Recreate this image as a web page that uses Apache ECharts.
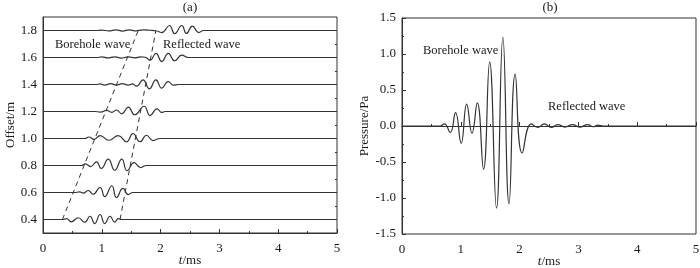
<!DOCTYPE html>
<html>
<head>
<meta charset="utf-8">
<script src="https://cdn.jsdelivr.net/npm/echarts@6/dist/echarts.min.js"></script>
<style>
  html, body { margin: 0; padding: 0; background: #fff; }
  #chart { width: 700px; height: 268px; }
</style>
</head>
<body>
<div id="chart"></div>
<script>
// (a) trace baselines, offset in m
const offsets = [0.4, 0.6, 0.8, 1.0, 1.2, 1.4, 1.6, 1.8];

// (a) wave packets: [t (ms), displacement from baseline (m)]
const trace04 = [[0.34, 0], [0.40, 0.007], [0.48, -0.017], [0.60, 0.013], [0.71, -0.020], [0.80, 0.024], [0.88, -0.030], [0.97, 0.037], [1.05, -0.030], [1.14, 0.024], [1.22, -0.020], [1.28, 0.007], [1.34, 0]];
const trace06 = [[0.54, 0], [0.62, 0.004], [0.69, -0.004], [0.77, 0.015], [0.85, -0.013], [0.97, 0.037], [1.05, -0.030], [1.17, 0.050], [1.25, -0.037], [1.36, 0.030], [1.45, -0.015], [1.53, 0]];
const trace08 = [[0.65, 0], [0.72, 0.012], [0.81, -0.008], [0.91, 0.027], [0.99, -0.022], [1.11, 0.047], [1.22, -0.035], [1.34, 0.047], [1.43, -0.039], [1.55, 0.022], [1.66, -0.015], [1.76, 0]];
const trace10 = [[0.71, 0], [0.78, 0.011], [0.87, -0.006], [0.97, 0.022], [1.12, -0.013], [1.28, 0.022], [1.42, -0.024], [1.53, 0.037], [1.65, -0.024], [1.76, 0.024], [1.87, -0.015], [1.99, 0]];
const trace12 = [[0.88, 0], [0.98, -0.004], [1.08, 0.008], [1.17, -0.006], [1.25, 0.011], [1.34, -0.017], [1.45, 0.032], [1.56, -0.024], [1.72, 0.039], [1.82, -0.030], [1.94, 0.020], [2.02, -0.007], [2.08, 0]];
const trace14 = [[0.90, 0], [0.97, 0.004], [1.05, -0.004], [1.15, 0.006], [1.25, -0.004], [1.35, 0.006], [1.45, -0.004], [1.52, 0.004], [1.59, -0.012], [1.70, 0.035], [1.81, -0.032], [1.92, 0.035], [2.02, -0.027], [2.13, 0.022], [2.22, -0.005], [2.30, 0]];
const trace16 = [[0.91, 0], [1.00, 0.004], [1.10, -0.003], [1.22, 0.005], [1.33, -0.004], [1.45, 0.004], [1.56, -0.003], [1.66, 0.004], [1.74, 0.002], [1.82, -0.020], [1.92, 0.030], [2.02, -0.030], [2.13, 0.030], [2.24, -0.024], [2.36, 0.017], [2.47, 0]];
const trace18 = [[0.90, 0], [1.00, 0.003], [1.12, -0.003], [1.24, 0.005], [1.35, -0.004], [1.47, 0.005], [1.58, -0.003], [1.70, 0.004], [1.82, 0.002], [1.92, -0.002], [2.02, -0.015], [2.15, 0.037], [2.24, -0.024], [2.36, 0.037], [2.44, -0.022], [2.54, 0.033], [2.65, -0.015], [2.73, 0]];
const traces = [trace04, trace06, trace08, trace10, trace12, trace14, trace16, trace18];

// (a) dashed arrival lines: [t, offset]
const boreholeLine = [[0.33, 0.4], [1.62, 1.8]];
const reflectedLine = [[1.31, 0.4], [1.92, 1.8]];

// (b) pressure record: [t (ms), p (Pa)]
const pressure = [[0, 0], [0.65, 0], [0.72, 0.03], [0.82, -0.09], [0.91, 0.185], [1.006, -0.24], [1.10, 0.305], [1.19, -0.10], [1.28, 0.32], [1.386, -0.60], [1.49, 0.89], [1.607, -1.14], [1.715, 1.23], [1.82, -1.08], [1.925, 0.72], [2.044, -0.375], [2.20, 0.03], [2.31, -0.02], [2.42, 0.03], [2.54, -0.02], [2.65, 0.02], [2.77, -0.015], [2.90, 0.02], [3.02, -0.015], [3.16, 0.018], [3.25, -0.01], [3.33, 0.012], [3.42, 0], [5, 0]];

const offsetTicks = [0.4, 0.6, 0.8, 1.0, 1.2, 1.4, 1.6, 1.8];
const offsetMinor = [0.5, 0.7, 0.9, 1.1, 1.3, 1.5, 1.7];

const FONT = "'Liberation Serif', 'Times New Roman', serif";
const FS = 13;
const INK = "#1a1a1a";
const LINE = "#333";

const chart = echarts.init(document.getElementById("chart"), null, { renderer: "canvas" });

function xAxisOf(gridIndex) {
  return {
    gridIndex,
    type: "value",
    min: 0,
    max: 5,
    interval: 1,
    axisLine: { lineStyle: { color: LINE, width: 1 } },
    axisTick: { inside: true, length: 4, lineStyle: { color: LINE } },
    minorTick: { show: true, splitNumber: 2, length: 2, lineStyle: { color: LINE } },
    axisLabel: { fontFamily: FONT, fontSize: FS, color: INK, margin: 9 },
    splitLine: { show: false },
    name: "{i|t}/ms",
    nameLocation: "middle",
    nameGap: 21,
    nameMoveOverlap: false,
    nameTextStyle: {
      fontFamily: FONT, fontSize: FS, color: INK,
      rich: { i: { fontFamily: FONT, fontSize: FS, fontStyle: "italic", color: INK } },
    },
  };
}

const waveSeries = traces.map((tr, k) => ({
  type: "line",
  xAxisIndex: 0,
  yAxisIndex: 0,
  showSymbol: false,
  smooth: 0.5,
  silent: true,
  lineStyle: { color: LINE, width: 1.2 },
  data: [[0, 0]].concat(tr, [[5, 0]]).map(([t, a]) => [t, offsets[k] + a]),
}));

const dashStyle = { color: LINE, width: 1, type: [5, 4] };

chart.setOption({
  animation: false,
  grid: [
    { left: 43, right: 363, top: 17, bottom: 35, show: true, borderColor: LINE, borderWidth: 1, outerBoundsMode: "none", containLabel: false },
    { left: 402, right: 4, top: 18, bottom: 34, show: true, borderColor: LINE, borderWidth: 1, outerBoundsMode: "none", containLabel: false },
  ],
  xAxis: [xAxisOf(0), xAxisOf(1)],
  yAxis: [
    {
      gridIndex: 0,
      type: "value",
      min: 0.3,
      max: 1.9,
      interval: 0.1,
      axisLine: { lineStyle: { color: LINE } },
      axisTick: { inside: true, length: 4, customValues: offsetTicks, lineStyle: { color: LINE } },
      axisLabel: { customValues: offsetTicks, formatter: (v) => v.toFixed(1), fontFamily: FONT, fontSize: FS, color: INK, margin: 6 },
      splitLine: { show: false },
      name: "Offset/m",
      nameLocation: "middle",
      nameGap: 26,
      nameMoveOverlap: false,
      nameTextStyle: { fontFamily: FONT, fontSize: FS, color: INK },
    },
    {
      gridIndex: 0,
      type: "value",
      min: 0.3,
      max: 1.9,
      axisLine: { show: false },
      axisTick: { inside: true, length: 2, customValues: offsetMinor, lineStyle: { color: LINE } },
      axisLabel: { show: false },
      splitLine: { show: false },
    },
    {
      gridIndex: 1,
      type: "value",
      min: -1.5,
      max: 1.5,
      interval: 0.5,
      axisLine: { lineStyle: { color: LINE } },
      axisTick: { inside: true, length: 4, lineStyle: { color: LINE } },
      minorTick: { show: true, splitNumber: 2, length: 2, lineStyle: { color: LINE } },
      axisLabel: { formatter: (v) => v.toFixed(1), fontFamily: FONT, fontSize: FS, color: INK, margin: 6 },
      splitLine: { show: false },
      name: "Pressure/Pa",
      nameLocation: "middle",
      nameGap: 31,
      nameMoveOverlap: false,
      nameTextStyle: { fontFamily: FONT, fontSize: FS, color: INK },
    },
  ],
  graphic: [
    { type: "text", x: 190, y: 8, style: { text: "(a)", font: FS + "px " + FONT, fill: INK, align: "center", verticalAlign: "middle" } },
    { type: "text", x: 550, y: 8, style: { text: "(b)", font: FS + "px " + FONT, fill: INK, align: "center", verticalAlign: "middle" } },
    { type: "text", x: 55, y: 45, style: { text: "Borehole wave", font: "12.5px " + FONT, fill: INK, verticalAlign: "middle" } },
    { type: "text", x: 163, y: 45, style: { text: "Reflected wave", font: "12.5px " + FONT, fill: INK, verticalAlign: "middle" } },
    { type: "text", x: 423, y: 51, style: { text: "Borehole wave", font: "12.5px " + FONT, fill: INK, verticalAlign: "middle" } },
    { type: "text", x: 548, y: 107, style: { text: "Reflected wave", font: "12.5px " + FONT, fill: INK, verticalAlign: "middle" } },
  ],
  series: waveSeries.concat([
    { type: "line", xAxisIndex: 0, yAxisIndex: 0, showSymbol: false, silent: true, lineStyle: dashStyle, data: boreholeLine },
    { type: "line", xAxisIndex: 0, yAxisIndex: 0, showSymbol: false, silent: true, lineStyle: dashStyle, data: reflectedLine },
    {
      type: "line",
      xAxisIndex: 1,
      yAxisIndex: 2,
      showSymbol: false,
      smooth: 0.5,
      silent: true,
      lineStyle: { color: LINE, width: 1.2 },
      data: pressure,
    },
  ]),
});
</script>
</body>
</html>
